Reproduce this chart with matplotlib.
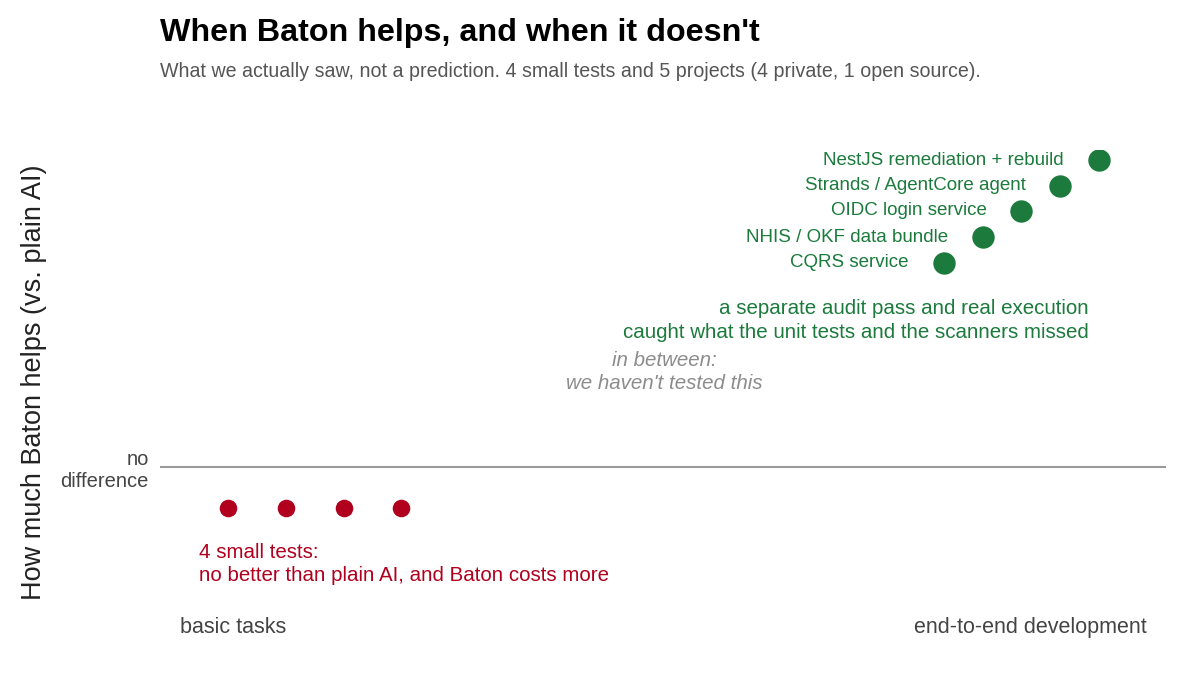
import matplotlib
matplotlib.use("Agg")
import matplotlib.pyplot as plt

plt.rcParams['font.family'] = ['Liberation Sans', 'DejaVu Sans']

# data: x = task scope (0 basic .. 1 end-to-end), y = how much Baton helps (0 = no difference)
small_x = [0.068, 0.125, 0.183, 0.240]
small_y = [-0.28, -0.28, -0.28, -0.28]

project_names = ["CQRS service", "NHIS / OKF data bundle", "OIDC login service",
                 "Strands / AgentCore agent", "NestJS remediation + rebuild"]
project_x = [0.779, 0.818, 0.856, 0.895, 0.933]
project_y = [1.38, 1.55, 1.73, 1.90, 2.07]

red = "#B0001E"
green = "#1B7A3C"

fig = plt.figure(figsize=(12, 6.9), dpi=100)
ax = fig.add_axes([160 / 1200, 1 - 615 / 690, 1006 / 1200, 465 / 690])
ax.set_xlim(0, 1)
ax.set_ylim(-1, 2.14)

ax.axhline(0, color="#9a9a9a", linewidth=1.5, zorder=1)

ax.scatter(small_x, small_y, s=160, color=red, zorder=3, linewidths=0)
ax.scatter(project_x, project_y, s=260, color=green, zorder=3, linewidths=0)

for name, x, y in zip(project_names, project_x, project_y):
    ax.annotate(name, (x, y), xytext=(-25, 0), textcoords="offset points",
                ha="right", va="center", fontsize=13.5, color=green)

ax.text(0.9235, 0.99, "a separate audit pass and real execution\ncaught what the unit tests and the scanners missed",
        ha="right", va="center", fontsize=14.8, color=green, linespacing=1.3)
ax.text(0.501, 0.64, "in between:\nwe haven't tested this",
        ha="center", va="center", fontsize=14.8, color="#8c8c8c", style="italic", linespacing=1.3)
ax.text(0.0388, -0.655, "4 small tests:\nno better than plain AI, and Baton costs more",
        ha="left", va="center", fontsize=14.8, color=red, linespacing=1.3)

ax.text(0.0199, -1.087, "basic tasks", ha="left", va="center", fontsize=15.5, color="#444444", clip_on=False)
ax.text(0.981, -1.087, "end-to-end development", ha="right", va="center", fontsize=15.5, color="#444444", clip_on=False)

ax.set_xticks([])
ax.set_yticks([0])
ax.set_yticklabels(["no\ndifference"], fontsize=14.5, color="#444444", linespacing=1.2)
ax.tick_params(axis="y", length=0, pad=8)
for s in ax.spines.values():
    s.set_visible(False)

fig.text(0.028, 0.446, "How much Baton helps (vs. plain AI)", rotation=90,
         ha="center", va="center", fontsize=19.5, color="#222222")
fig.text(160 / 1200, 0.952, "When Baton helps, and when it doesn't", ha="left", va="center",
         fontsize=23.2, fontweight="bold", color="black")
fig.text(160 / 1200, 0.896, "What we actually saw, not a prediction. 4 small tests and 5 projects (4 private, 1 open source).",
         ha="left", va="center", fontsize=14.1, color="#555555")

fig.savefig("out.png", dpi=100)
